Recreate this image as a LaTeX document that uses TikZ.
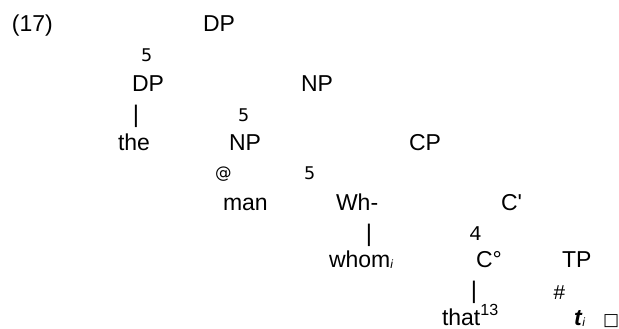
\documentclass[tikz,border=0pt]{standalone}
\usepackage{fontspec}
\setmainfont{Liberation Sans}
\newfontfamily\nomapfont[Ligatures=ResetAll]{Liberation Sans}
\newfontfamily\symfont{DejaVu Sans}
\newfontfamily\monofont{Liberation Mono}
\newcommand{\mysubi}{\raisebox{-1.5pt}{\fontsize{12}{12}\selectfont\itshape i}}
\begin{document}
\begin{tikzpicture}[x=1pt,y=-1pt,
  every node/.style={inner sep=0pt,outer sep=0pt},
  lab/.style={anchor=base west,font=\fontsize{23}{26}\selectfont},
  sym/.style={anchor=south west,font=\symfont\fontsize{17.5}{19}\selectfont},
  msym/.style={anchor=south west,font=\monofont\fontsize{21}{23}\selectfont},
  bar/.style={anchor=center,font=\fontsize{24}{26}\selectfont}]
\useasboundingbox (0,0) rectangle (619,329);
\node[lab] (ex) at (12,32) {(17)};
\node[lab] (dp1) at (203,32) {DP};
\node[sym] (b1) at (141,62) {5};
\node[lab] (dp2) at (132,92) {DP};
\node[lab] (np1) at (301,92) {NP};
\node[bar] (v1) at (136,116) {|};
\node[sym] (b2) at (238,122) {5};
\node[lab] (the) at (118,150) {the};
\node[lab] (np2) at (229,150) {NP};
\node[lab] (cp) at (409,150) {CP};
\node[sym,font=\symfont\fontsize{16.5}{18}\selectfont] (at) at (215,181) {@};
\node[sym] (b3) at (304,180) {5};
\node[lab] (man) at (223,210) {man};
\node[lab] (wh) at (336,210) {Wh-};
\node[lab] (cbar) at (501,210) {C{\nomapfont\char"27}};
\node[bar] (v2) at (369,235) {|};
\node[msym] (b4) at (469,240) {4};
\node[lab] (whom) at (329,267) {whom\mysubi};
\node[lab] (c0) at (476,267) {C°};
\node[lab] (tp) at (562,267) {TP};
\node[bar] (v3) at (474,292) {|};
\node[msym] (b5) at (553,299) {\#};
\node[lab] (that) at (442,325) {that\textsuperscript{13}};
\node[lab] (ti) at (574,325) {\textbf{\textit{t}}\mysubi};
\node[anchor=base west,font=\symfont\fontsize{17}{18}\selectfont] (sq) at (603,325) {□};
\end{tikzpicture}
\end{document}
